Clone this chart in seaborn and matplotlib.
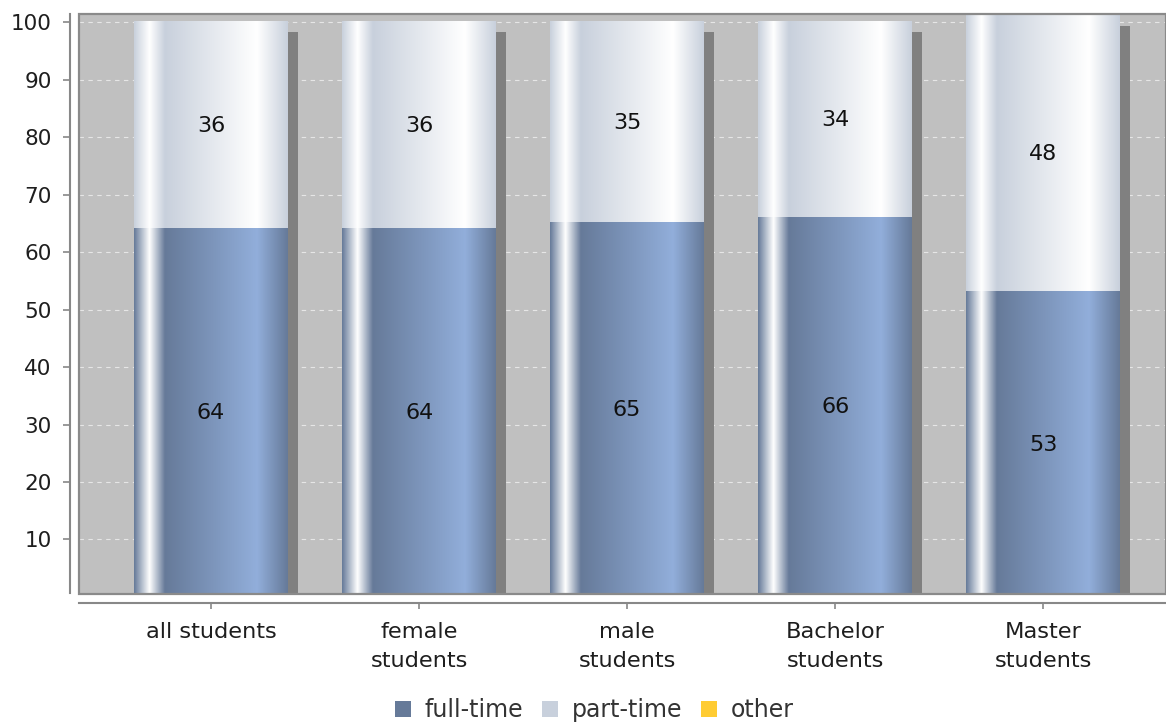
import numpy as np
import pandas as pd
import matplotlib
matplotlib.use("Agg")
import matplotlib.pyplot as plt
import matplotlib.transforms as mtransforms
from matplotlib.patches import Rectangle, Patch
from matplotlib.colors import to_rgb
import seaborn as sns

categories = ["all students", "female\nstudents", "male\nstudents", "Bachelor\nstudents", "Master\nstudents"]
full_time = [64, 64, 65, 66, 53]
part_time = [36, 36, 35, 34, 48]
other = [0, 0, 0, 0, 0]
series_names = ["full-time", "part-time", "other"]
series_colors = ["#667a99", "#c8d0dc", "#ffcc33"]
y_ticks = [10, 20, 30, 40, 50, 60, 70, 80, 90, 100]

sns.set_theme(style="white")
plt.rcParams['font.family'] = ['DejaVu Sans']

df = pd.DataFrame({"category": categories, "full": full_time, "part": part_time})
df["total"] = df["full"] + df["part"]

fig = plt.figure(figsize=(11.66, 7.22), dpi=100)
ax = fig.add_axes([79 / 1166, (722 - 593.5) / 722, 1 - 79 / 1166, (593.5 - 13.5) / 722])

bar_w = 0.74
sns.barplot(data=df, x="category", y="total", color=series_colors[1], width=bar_w, ax=ax,
            saturation=1, zorder=3)
n_tot = len(ax.patches)
sns.barplot(data=df, x="category", y="full", color=series_colors[0], width=bar_w, ax=ax,
            saturation=1, zorder=4)

patches = list(ax.patches)


def brighter(c):
    r, g, b = to_rgb(c)
    return tuple(min(1.0, v / 0.7) for v in (r, g, b))


def gradient_row(c0, n=400):
    c0 = np.array(to_rgb(c0))
    c1 = np.array(brighter(tuple(c0)))
    white = np.array([1.0, 1.0, 1.0])
    stops = [0.0, 0.1, 0.2, 0.8, 1.0]
    cols = [c0, white, c0, c1, c0]
    xs = np.linspace(0, 1, n)
    row = np.zeros((n, 3))
    for k in range(3):
        row[:, k] = np.interp(xs, stops, [c[k] for c in cols])
    return row[np.newaxis, :, :]


shadow_tr = mtransforms.offset_copy(ax.transData, fig=fig, x=9.5, y=-9.5, units='dots')
for i, p in enumerate(patches):
    x, y, w, h = p.get_x(), p.get_y(), p.get_width(), p.get_height()
    is_full = i >= n_tot
    base_col = series_colors[0] if is_full else series_colors[1]
    sh = Rectangle((x, y), w, h, transform=shadow_tr, facecolor="#808080", edgecolor="none", zorder=2)
    ax.add_patch(sh)
    img = gradient_row(base_col)
    ax.imshow(img, extent=[x, x + w, y, y + h], aspect='auto', interpolation='bilinear',
              zorder=4 if is_full else 3)
    p.set_facecolor("none")
    p.set_edgecolor("none")

# value labels
for i in range(len(categories)):
    ax.text(i, full_time[i] / 2, str(full_time[i]), ha='center', va='center', fontsize=16, color='#111111', zorder=6)
    ax.text(i, full_time[i] + part_time[i] / 2, str(part_time[i]), ha='center', va='center', fontsize=16,
            color='#111111', zorder=6)

ax.set_xlim(-0.635, 4.59)
ax.set_ylim(0.6, 101.5)
ax.set_facecolor("#c0c0c0")
ax.set_yticks(y_ticks)
ax.set_yticklabels([str(t) for t in y_ticks])
ax.set_xticks(range(len(categories)))
ax.set_xticklabels(categories)
ax.set_xlabel("")
ax.set_ylabel("")

for yv in y_ticks:
    ax.axhline(yv, color="#e6e6e6", lw=0.8, ls=(0, (4, 4)), zorder=1)

for s in ["top", "right"]:
    ax.spines[s].set_visible(False)
for s in ["left", "bottom"]:
    ax.spines[s].set_position(('outward', 6.6))
    ax.spines[s].set_color("#888888")
    ax.spines[s].set_linewidth(1.5)

ax.add_patch(Rectangle((0, 0), 1, 1, transform=ax.transAxes, facecolor="none", edgecolor="#8a8a8a",
                       lw=1.6, zorder=7, clip_on=False))

ax.tick_params(axis='y', left=True, length=5, width=1.2, color="#888888", pad=8, labelsize=15.5,
               labelcolor="#1e1e1e")
ax.tick_params(axis='x', bottom=True, length=4, width=1.2, color="#888888", pad=10, labelsize=16.2,
               labelcolor="#1e1e1e")
for tick in ax.xaxis.get_major_ticks():
    tick.label1.set_linespacing(1.55)

handles = [Patch(facecolor=c, edgecolor="none") for c in series_colors]
fig.legend(handles, series_names, loc='center', bbox_to_anchor=(0.51, 12 / 722), ncol=3, frameon=False,
           fontsize=17, handlelength=0.65, handleheight=0.65, handletextpad=0.6, columnspacing=0.8,
           labelcolor="#333333")

fig.savefig("out.png", dpi=100)
